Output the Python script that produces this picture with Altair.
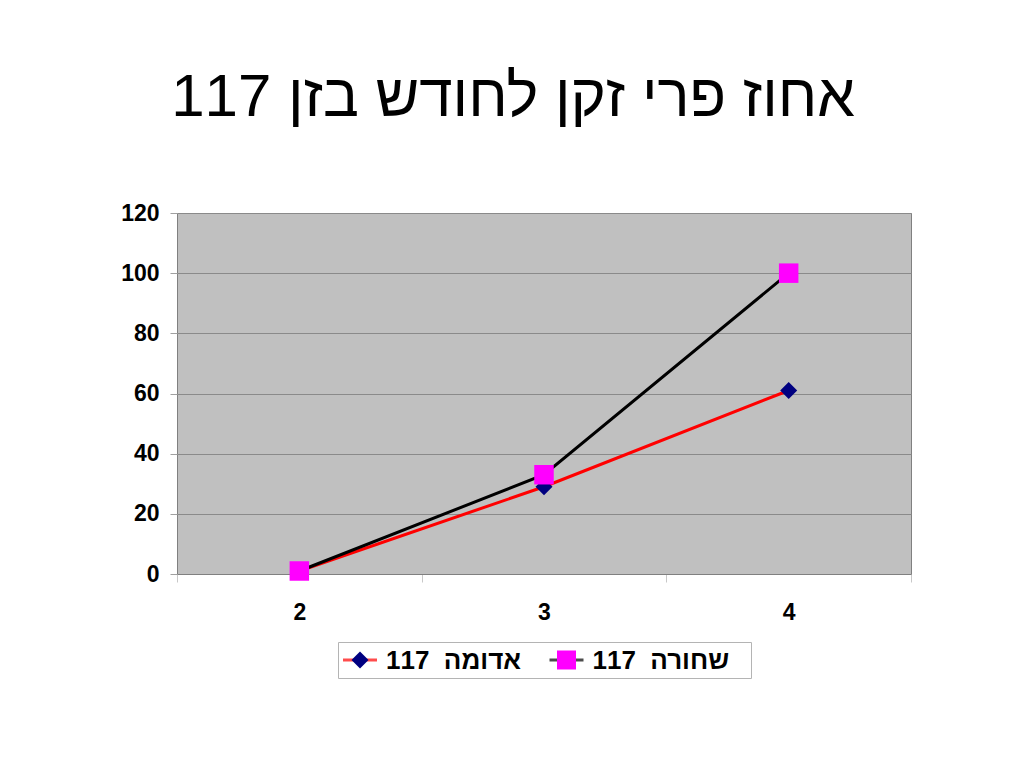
import altair as alt
import pandas as pd

title_text = "אחוז פרי זקן לחודש בזן 117"
months = ["2", "3", "4"]
series_names = ["אדומה\u00a0 117", "שחורה\u00a0 117"]
red_values = [1, 29, 61]
black_values = [1, 33, 100]
y_ticks = [0, 20, 40, 60, 80, 100, 120]

line_colors = ["#ff0000", "#000000"]
marker_fills = ["#000080", "#ff00ff"]
marker_shapes = ["diamond", "square"]

FONT = "Liberation Sans"

rows = []
for m, v in zip(months, red_values):
    rows.append({"month": m, "value": v, "series": series_names[0]})
for m, v in zip(months, black_values):
    rows.append({"month": m, "value": v, "series": series_names[1]})
df = pd.DataFrame(rows)

x_enc = alt.X(
    "month:O", sort=months, bandPosition=0.5,
    scale=alt.Scale(type="band", paddingInner=0, paddingOuter=0),
    axis=alt.Axis(title=None, labelAngle=0, tickBand="extent", tickSize=8,
                  tickColor="#c8c8c8", domainColor="#808080", labelPadding=19,
                  labelFont=FONT, labelFontSize=23, labelFontWeight="bold",
                  labelColor="#000000", grid=False),
)
y_enc = alt.Y(
    "value:Q",
    scale=alt.Scale(domain=[0, 120], nice=False, zero=True),
    axis=alt.Axis(title=None, values=y_ticks, tickSize=7, tickColor="#a0a0a0",
                  domain=False, gridColor="#8a8a8a", gridWidth=1, labelPadding=11,
                  labelFont=FONT, labelFontSize=23, labelFontWeight="bold",
                  labelColor="#000000"),
)
color_scale = alt.Scale(domain=series_names, range=line_colors)
fill_scale = alt.Scale(domain=series_names, range=marker_fills)
shape_scale = alt.Scale(domain=series_names, range=marker_shapes)

layers = []
for i, s in enumerate(series_names):
    base = alt.Chart(df).transform_filter(alt.datum.series == s)
    layers.append(base.mark_line(strokeWidth=3).encode(
        x=x_enc, y=y_enc,
        color=alt.Color("series:N", scale=color_scale, legend=None)))
    layers.append(base.mark_point(filled=True, opacity=1, size=[289, 380][i]).encode(
        x=x_enc, y=y_enc,
        fill=alt.Fill("series:N", scale=fill_scale, legend=None),
        shape=alt.Shape("series:N", scale=shape_scale, legend=None)))

main = alt.layer(*layers).properties(
    width=734, height=361,
    view=alt.ViewBackground(fill="#c0c0c0", stroke="#808080", strokeWidth=1),
)

LEG_W = 413
leg_df = pd.DataFrame({"series": series_names})
lx = alt.X("series:N", sort=series_names, bandPosition=0,
           scale=alt.Scale(type="band", paddingInner=0, paddingOuter=0), axis=None)
leg_base = alt.Chart(leg_df)
leg_line = leg_base.mark_tick(orient="horizontal", size=34, thickness=3,
                              xOffset=22 - LEG_W / 4).encode(
    x=lx, color=alt.Color("series:N", scale=color_scale, legend=None))
leg_pt1 = leg_base.transform_filter(alt.datum.series == series_names[0]).mark_point(
    filled=True, opacity=1, size=290, xOffset=22).encode(
    x=lx,
    fill=alt.Fill("series:N", scale=fill_scale, legend=None),
    shape=alt.Shape("series:N", scale=shape_scale, legend=None))
leg_pt2 = leg_base.transform_filter(alt.datum.series == series_names[1]).mark_point(
    filled=True, opacity=1, size=361, xOffset=22).encode(
    x=lx,
    fill=alt.Fill("series:N", scale=fill_scale, legend=None),
    shape=alt.Shape("series:N", scale=shape_scale, legend=None))
leg_txt = leg_base.mark_text(align="left", baseline="middle", xOffset=48, dy=1, font=FONT,
                             fontSize=26, fontWeight="bold", color="#000000").encode(
    x=lx, text="series:N")
legend = alt.layer(leg_line, leg_pt1, leg_pt2, leg_txt).properties(
    width=LEG_W, height=36,
    view=alt.ViewBackground(fill="#ffffff", stroke="#b4b4b4", strokeWidth=1),
)
spacer = alt.Chart(leg_df).mark_point(opacity=0).properties(
    width=160, height=36,
    view=alt.ViewBackground(fill=None, stroke=None),
)

chart = alt.vconcat(
    main,
    alt.hconcat(spacer, legend, spacing=0),
    spacing=16,
).properties(
    title=alt.Title(title_text, font=FONT, fontSize=60, fontWeight="normal",
                    color="#000000", anchor="middle", offset=73, dx=-3),
    padding={"top": 59, "left": 112, "right": 10, "bottom": 10},
).configure_view(stroke=None)

chart.save("out.html", embed_options={"renderer": "svg", "actions": False})
